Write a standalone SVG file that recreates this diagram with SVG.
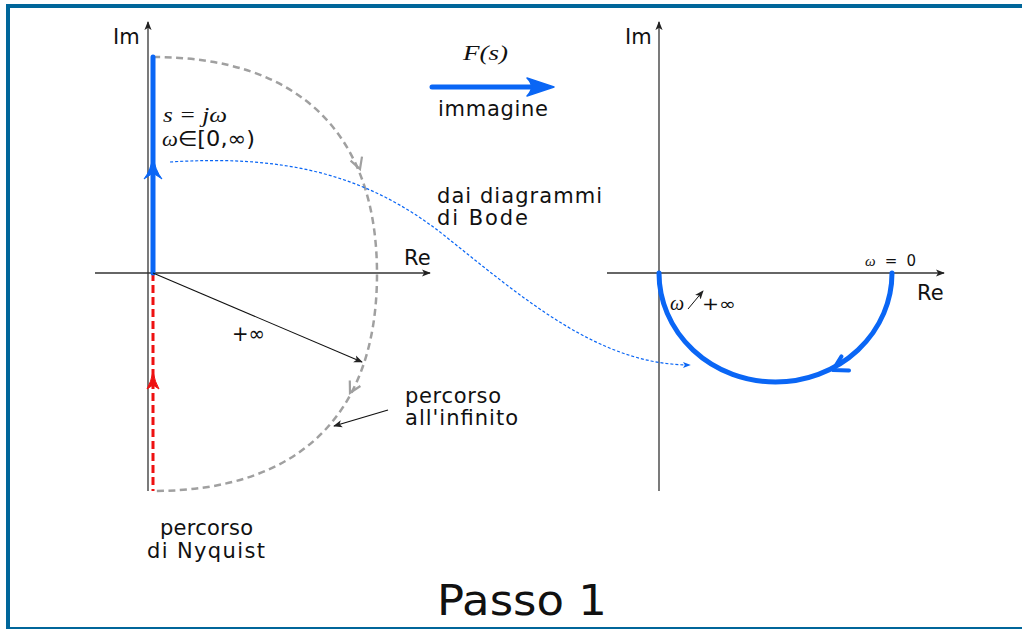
<svg xmlns="http://www.w3.org/2000/svg" width="1022" height="629" viewBox="0 0 1022 629">
<style>
.ax{stroke:#333;stroke-width:1.3;fill:none}
.t{font-family:"DejaVu Sans",sans-serif;font-size:21px;fill:#111}
.m{font-family:"Liberation Serif",serif;font-style:italic;fill:#111}
.blue{stroke:#0a66f5;fill:none}
.gray{stroke:#a0a0a0;stroke-width:2.5;fill:none;stroke-dasharray:7 4.5}
.gh{stroke:#a0a0a0;stroke-width:2.2;fill:none;stroke-linejoin:miter}
</style>
<defs>
<marker id="ah" viewBox="0 0 10 10" refX="9" refY="5" markerWidth="9" markerHeight="9" markerUnits="userSpaceOnUse" orient="auto">
<path d="M0,1 L10,5 L0,9 L2.5,5 Z" fill="#222"/>
</marker>
<marker id="ahb" viewBox="0 0 10 10" refX="9" refY="5" markerWidth="8" markerHeight="8" markerUnits="userSpaceOnUse" orient="auto">
<path d="M0,1 L10,5 L0,9 L2.5,5 Z" fill="#0a66f5"/>
</marker>
</defs>
<g id="frame" fill="#00669a">
<rect x="6" y="4" width="1016" height="4"/>
<rect x="6" y="4" width="4" height="625"/>
<rect x="6" y="627" width="1016" height="2"/>
</g>
<g id="left-axes">
<line class="ax" x1="148" y1="491" x2="148" y2="22" marker-end="url(#ah)"/>
<line class="ax" x1="95" y1="273" x2="430" y2="273" marker-end="url(#ah)"/>
<text class="t" x="113" y="44">Im</text>
<text class="t" x="404" y="265">Re</text>
</g>
<g id="right-axes">
<line class="ax" x1="659" y1="491" x2="659" y2="22" marker-end="url(#ah)"/>
<line class="ax" x1="607" y1="273" x2="944" y2="273" marker-end="url(#ah)"/>
<text class="t" x="625" y="44">Im</text>
<text class="t" x="917" y="300">Re</text>
</g>
<g id="nyquist-path">
<path class="gray" d="M153,57 C299,57 377,133 377,274 C377,415 299,491 153,491"/>
<path class="gh" d="M350.6,160.6 L360,169 L362,156.6"/>
<path class="gh" d="M349.8,380.4 L350,393 L360.4,386"/>
<line x1="153" y1="273" x2="153" y2="491" stroke="#ee1111" stroke-width="3" stroke-dasharray="8 4"/>
<path d="M153,372 Q155,382 159,389 L153,385 L147,389 Q151,382 153,372 Z" fill="#ee1111" stroke="#ee1111" stroke-width="1"/>
<line class="blue" x1="153" y1="57" x2="153" y2="273" stroke-width="5" stroke-linecap="round"/>
<path d="M153,156 Q155,170 162,179 L153,173 L144,179 Q151,170 153,156 Z" fill="#0a66f5" stroke="#0a66f5" stroke-width="1"/>
<text class="m" x="163" y="122" font-size="21" textLength="64" lengthAdjust="spacingAndGlyphs">s = jω</text>
<text x="162" y="146" style="font-size:21px" fill="#111" font-family="DejaVu Sans,sans-serif" textLength="93" lengthAdjust="spacingAndGlyphs"><tspan font-family="Liberation Serif,serif" font-style="italic">ω</tspan>∈[0,∞)</text>
</g>
<g id="radius">
<line x1="153" y1="273" x2="362" y2="362" stroke="#111" stroke-width="1.1" marker-end="url(#ah)"/>
<text x="232" y="341" font-family="DejaVu Sans,sans-serif" style="font-size:21px" fill="#111" textLength="33" lengthAdjust="spacingAndGlyphs">+∞</text>
</g>
<g id="infinity-label">
<text class="t" x="405" y="403" textLength="96" lengthAdjust="spacing">percorso</text>
<text class="t" x="405" y="425" textLength="113" lengthAdjust="spacing">all'infinito</text>
<line x1="388" y1="410" x2="334" y2="426" stroke="#111" stroke-width="1.3" marker-end="url(#ah)"/>
</g>
<g id="nyquist-label">
<text class="t" x="160" y="535" textLength="93" lengthAdjust="spacing">percorso</text>
<text class="t" x="147" y="558" textLength="118" lengthAdjust="spacing">di Nyquist</text>
</g>
<g id="mapping">
<line class="blue" x1="432" y1="87" x2="540" y2="87" stroke-width="5" stroke-linecap="round"/>
<path d="M554,87 L527,78 Q536,87 527,96 Z" fill="#0a66f5" stroke="#0a66f5" stroke-width="1.5" stroke-linejoin="round"/>
<text class="m" x="463" y="60" font-size="22" textLength="45" lengthAdjust="spacingAndGlyphs">F(s)</text>
<text class="t" x="438" y="116" textLength="110" lengthAdjust="spacing">immagine</text>
</g>
<g id="connectors">
<path d="M170,162 C280,155 365,172 445,236 S600,365 690,365" stroke="#0a66f5" stroke-width="1.2" fill="none" stroke-dasharray="3 2" marker-end="url(#ahb)"/>
</g>
<g id="bode-label">
<text class="t" x="437" y="203" textLength="165" lengthAdjust="spacing">dai diagrammi</text>
<text class="t" x="437" y="225" textLength="91" lengthAdjust="spacing">di Bode</text>
</g>
<g id="nyquist-plot">
<path class="blue" d="M892,273 A116.5,109 0 0 1 659,273" stroke-width="5" stroke-linecap="round"/>
<path d="M841.5,356.4 L833,370 L849,370.4" stroke="#0a66f5" stroke-width="4" fill="none" stroke-linecap="round" stroke-linejoin="round"/>
<text x="865" y="266" style="font-size:15px" fill="#111" font-family="DejaVu Sans,sans-serif" textLength="51" lengthAdjust="spacing"><tspan font-family="Liberation Serif,serif" font-style="italic">ω</tspan> = 0</text>
<text class="m" x="670" y="310" font-size="20">ω</text>
<line x1="688" y1="309" x2="703" y2="291" stroke="#111" stroke-width="1" marker-end="url(#ah)"/>
<text x="702" y="310" font-family="DejaVu Sans,sans-serif" style="font-size:17px" fill="#111" textLength="34" lengthAdjust="spacingAndGlyphs">+∞</text>
</g>
<g id="title">
<text x="437" y="615" font-family="DejaVu Sans,sans-serif" fill="#111" style="font-size:43px" textLength="170" lengthAdjust="spacingAndGlyphs">Passo 1</text>
</g>
</svg>
